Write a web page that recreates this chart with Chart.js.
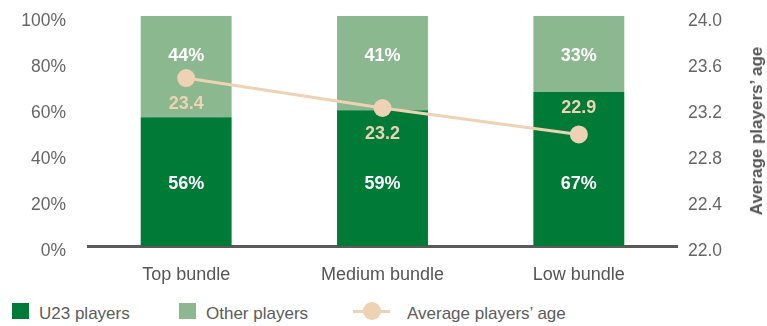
<!DOCTYPE html>
<html>
<head>
<meta charset="utf-8">
<script src="https://cdn.jsdelivr.net/npm/chart.js"></script>
<style>
  body{margin:0;background:#fff;font-family:"Liberation Sans",Arial,sans-serif;}
  #wrap{position:relative;width:767px;height:326px;overflow:hidden;}
  #box{position:absolute;left:0;top:0;width:767px;height:295px;}
  #ytitle{position:absolute;left:757px;top:131px;transform:translate(-50%,-50%) rotate(-90deg);
    white-space:nowrap;font-weight:bold;font-size:17px;color:#555;}
  .lg{position:absolute;top:303px;height:17px;font-size:17px;color:#5c5c5c;line-height:17px;}
  .sw{position:absolute;top:0;width:17px;height:16px;}
  .ln i{position:absolute;left:0;top:7px;width:37px;height:3px;background:#EDD2B4;}
  .ln b{position:absolute;left:10px;top:-1px;width:18px;height:18px;border-radius:50%;background:#EDD2B4;}
</style>
</head>
<body>
<div id="wrap">
  <div id="box"><canvas id="c"></canvas></div>
  <div id="ytitle">Average players’ age</div>
  <div class="lg" style="left:12px"><span class="sw" style="background:#007A37"></span><span style="position:absolute;left:27px;top:2px;white-space:nowrap">U23 players</span></div>
  <div class="lg" style="left:179px"><span class="sw" style="background:#8BB88F"></span><span style="position:absolute;left:27px;top:2px;white-space:nowrap">Other players</span></div>
  <div class="lg ln" style="left:353px"><i></i><b></b><span style="position:absolute;left:54px;top:2px;white-space:nowrap">Average players’ age</span></div>
</div>
<script>
  const categories = ['Top bundle', 'Medium bundle', 'Low bundle'];
  const u23Share = [56, 59, 67];
  const otherShare = [44, 41, 33];
  const avgAge = [23.46, 23.2, 22.97];
  const avgAgeText = ['23.4', '23.2', '22.9'];
  const ageLabelSide = ['below', 'below', 'above'];
  const shareTicks = [0, 20, 40, 60, 80, 100];
  const ageTicks = [22.0, 22.4, 22.8, 23.2, 23.6, 24.0];

  const dark = '#007A37', light = '#8BB88F', peach = '#EDD2B4';
  Chart.defaults.font.family = '"Liberation Sans", Arial, sans-serif';

  const labelPlugin = {
    id: 'valueLabels',
    afterDatasetsDraw(chart){
      const ctx = chart.ctx;
      ctx.save();
      ctx.textAlign = 'center';
      ctx.textBaseline = 'middle';
      ctx.font = 'bold 18px "Liberation Sans", Arial, sans-serif';
      ctx.fillStyle = '#fff';
      chart.getDatasetMeta(0).data.forEach((bar, i) => {
        ctx.fillText(u23Share[i] + '%', bar.x, bar.base - 62);
      });
      chart.getDatasetMeta(1).data.forEach((bar, i) => {
        ctx.fillText(otherShare[i] + '%', bar.x, bar.y + 40);
      });
      ctx.fillStyle = peach;
      chart.getDatasetMeta(2).data.forEach((pt, i) => {
        const dy = ageLabelSide[i] === 'above' ? -26 : 26;
        ctx.fillText(avgAgeText[i], pt.x, pt.y + dy);
      });
      ctx.restore();
    }
  };

  const fitSide = w => s => { s.width = w; s.paddingTop = 0; s.paddingBottom = 0; };

  new Chart(document.getElementById('c'), {
    data: {
      labels: categories,
      datasets: [
        {type:'bar', label:'U23 players', data:u23Share, backgroundColor:dark, yAxisID:'y', order:2,
         barPercentage:0.463, categoryPercentage:1},
        {type:'bar', label:'Other players', data:otherShare, backgroundColor:light, yAxisID:'y', order:2,
         barPercentage:0.463, categoryPercentage:1},
        {type:'line', label:'Average players’ age', data:avgAge, yAxisID:'y1', order:0,
         borderColor:peach, borderWidth:3, pointRadius:9, pointHoverRadius:9,
         pointBackgroundColor:peach, pointBorderWidth:0, tension:0}
      ]
    },
    options: {
      responsive:true, maintainAspectRatio:false, animation:false,
      layout:{padding:{top:16, left:0, right:0, bottom:0}},
      plugins:{legend:{display:false}, tooltip:{enabled:false}},
      scales:{
        x:{
          stacked:true,
          grid:{display:true, color:'rgba(0,0,0,0)', drawTicks:false},
          border:{display:true, color:'#5a5a5a', width:3},
          ticks:{color:'#555', font:{size:18}, padding:18},
          afterFit(s){ s.height = 49; s.paddingLeft = 0; s.paddingRight = 0; }
        },
        y:{
          stacked:true, min:0, max:100, position:'left',
          grid:{display:false, drawTicks:false}, border:{display:false},
          afterBuildTicks(s){ s.ticks = shareTicks.map(v => ({value:v})); },
          ticks:{color:'#666', font:{size:17.5}, padding:22, labelOffset:5, callback:v => v + '%'},
          afterFit: fitSide(88)
        },
        y1:{
          min:22, max:24, position:'right',
          grid:{display:false, drawTicks:false}, border:{display:false},
          afterBuildTicks(s){ s.ticks = ageTicks.map(v => ({value:v})); },
          ticks:{color:'#666', font:{size:17.5}, padding:11, labelOffset:5, callback:v => Number(v).toFixed(1)},
          afterFit: fitSide(90)
        }
      }
    },
    plugins:[labelPlugin]
  });
</script>
</body>
</html>
